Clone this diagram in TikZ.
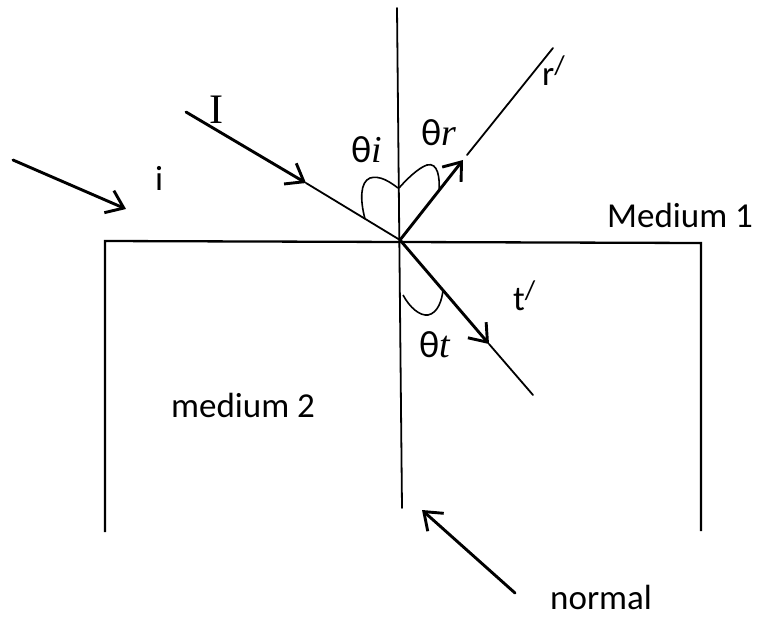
\documentclass[tikz,border=0pt]{standalone}
\usepackage{fontspec}
\setmainfont{Carlito}
\newfontfamily\serifI{Liberation Serif}
\usetikzlibrary{arrows.meta}
\begin{document}
\begin{tikzpicture}[x=1pt,y=-1pt,
  thinline/.style={line width=1.8pt, line cap=round},
  wall/.style={line width=2.3pt},
  tipped/.style={line width=2.9pt, line cap=round, -{Straight Barb[length=16pt,width=24pt]}},
  arcline/.style={line width=1.6pt},
  lbl/.style={anchor=base west, inner sep=0pt, font=\fontsize{35}{42}\selectfont},
  thlbl/.style={anchor=base west, inner sep=0pt, font=\fontsize{38}{44}\selectfont},
  serlbl/.style={anchor=base west, inner sep=0pt, font=\serifI\fontsize{42}{50}\selectfont}
]
\useasboundingbox (0,0) rectangle (774,619);

% coordinates
\coordinate (O) at (400,240);
\coordinate (nTop) at (397,8);
\coordinate (nBot) at (402,508);
\coordinate (LB) at (105,532);
\coordinate (LT) at (105,241);
\coordinate (RT) at (701,243);
\coordinate (RB) at (701,531);
\coordinate (Is) at (186,112);
\coordinate (Ia) at (306,183);
\coordinate (Ra) at (463,160);
\coordinate (Rb) at (467,155);
\coordinate (Re) at (553,48);
\coordinate (Ta) at (489,344);
\coordinate (Te) at (533,395);
\coordinate (iS) at (13,160);
\coordinate (iE) at (126,209);
\coordinate (nS) at (515,593);
\coordinate (nE) at (422,510);

% normal and media boundaries
\draw[thinline] (nTop) -- (nBot);
\draw[wall] (LB) -- (LT) -- (RT) -- (RB);

% incident ray
\draw[tipped] (Is) -- (Ia);
\draw[thinline] (Ia) -- (O);
% reflected ray
\draw[tipped] (O) -- (Ra);
\draw[thinline] (Rb) -- (Re);
% transmitted ray
\draw[tipped] (O) -- (Ta);
\draw[thinline] (Ta) -- (Te);

% pointer arrows
\draw[tipped] (iS) -- (iE);
\draw[tipped] (nS) -- (nE);

% angle marks
\draw[arcline] (365,219) .. controls (360,200) and (360,182) .. (370,178)
  .. controls (380,175) and (390,182) .. (398,188);
\draw[arcline] (399,188) .. controls (406,180) and (418,168) .. (427,165)
  .. controls (438,162) and (440,178) .. (439,191);
\draw[arcline] (403,295) .. controls (410,308) and (420,316) .. (428,315)
  .. controls (438,313) and (442,300) .. (443,290);

% labels
\node[serlbl] (lblI) at (209,123) {I};
\node[lbl] (lbli) at (155,190) {i};
\node[thlbl] (thi) at (351,162) {θ{\serifI\itshape i}};
\node[thlbl] (thr) at (421,145) {θ{\serifI\itshape r}};
\node[thlbl] (tht) at (419,357) {θ{\serifI\itshape t}};
\node[lbl] (tp) at (513,310) {t\raisebox{0.3em}{\fontsize{27}{30}\selectfont /}};
\node[lbl] (rp) at (542,85) {r\raisebox{0.3em}{\fontsize{27}{30}\selectfont /}};
\node[lbl] (m1) at (607,227) {Medium 1};
\node[lbl] (m2) at (171,417) {medium 2};
\node[lbl] (nl) at (550,609) {normal};
\end{tikzpicture}
\end{document}
